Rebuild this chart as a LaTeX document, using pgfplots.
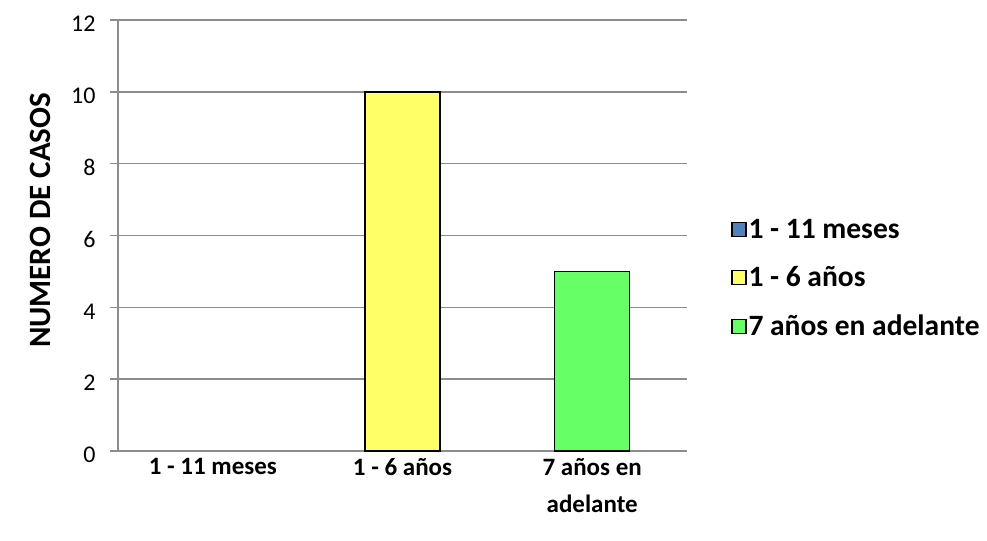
\documentclass[border=0pt]{standalone}
\usepackage{pgfplots}
\pgfplotsset{compat=1.18}
\usepackage{fontspec}
\setmainfont{Carlito}

\definecolor{gridgray}{HTML}{8C8C8C}
\definecolor{barblue}{HTML}{4F81BD}
\definecolor{baryellow}{HTML}{FFFF66}
\definecolor{bargreen}{HTML}{66FF66}

\newcommand{\tickfont}{\fontsize{24bp}{28bp}\selectfont}

\begin{document}
\begin{tikzpicture}
    \begin{axis}[
            scale only axis,
            width=569bp,
            height=431bp,
            xmin=-0.5, xmax=2.5,
            ymin=0, ymax=12,
            ytick={0,2,4,6,8,10,12},
            /pgf/number format/assume math mode=true,
            xtick={0,1,2},
            xticklabels={1 - 11 meses, 1 - 6 años, {7 años en\\adelante}},
            x tick label style={
                font=\bfseries\fontsize{25bp}{37bp}\selectfont,
                align=center,
                yshift=4bp
            },
            y tick label style={
                font=\tickfont,
                xshift=-11bp,
                yshift=-4bp
            },
            major x tick style={draw=none},
            ytick style={gridgray, line width=1.5bp},
            tick align=outside,
            major tick length=8bp,
            ymajorgrids,
            grid style={gridgray, line width=1.5bp},
            axis x line*=bottom,
            axis y line*=left,
            axis line style={gridgray, line width=1.5bp},
            ybar,
            bar width=75bp,
            clip=false,
            ylabel={\textbf{NUMERO DE CASOS}},
            ylabel style={
                font=\fontsize{31bp}{36bp}\selectfont,
                at={(rel axis cs:-0.137,0.535)},
                anchor=center
            },
            legend image code/.code={
                \draw[#1, draw=black, line width=1.5bp] (0bp,-7bp) rectangle (14bp,7bp);
            },
            legend style={
                at={(rel axis cs:1.077,0.401)},
                anchor=west,
                draw=none,
                fill=none,
                inner sep=0pt,
                row sep=23bp,
                font=\bfseries\fontsize{29.5bp}{34bp}\selectfont,
                legend cell align=left,
                /tikz/every even column/.append style={column sep=7bp}
            },
        ]
        \addplot[fill=barblue, draw=none, bar shift=0pt] coordinates {(0,0)};
        \addplot[fill=baryellow, draw=black, line width=1.5bp, bar shift=0pt] coordinates {(1,10)};
        \addplot[fill=bargreen, draw=black, line width=1.5bp, bar shift=0pt] coordinates {(2,5)};
        \legend{1 - 11 meses, 1 - 6 años, 7 años en adelante}
        \path (rel axis cs:-0.2074,-0.2065) rectangle (rel axis cs:1.5272,1.0464);
    \end{axis}
\end{tikzpicture}
\end{document}
